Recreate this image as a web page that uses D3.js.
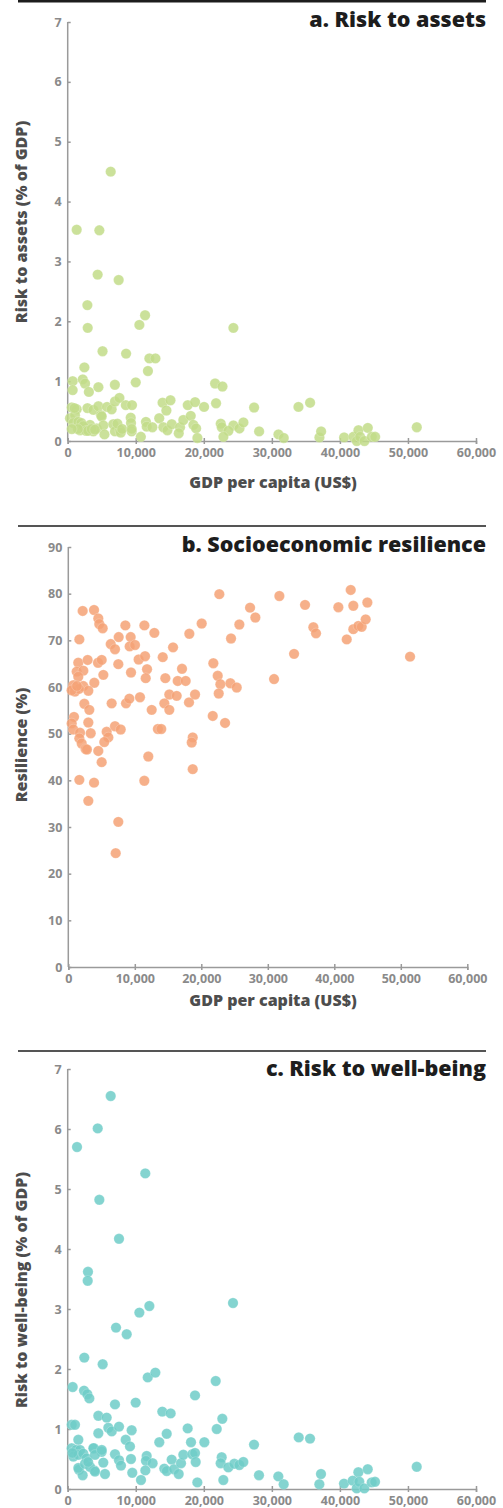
<!DOCTYPE html>
<html>
<head>
<meta charset="utf-8">
<title>Risk to assets, resilience and risk to well-being</title>
<style>
  body { margin: 0; background: #fff; }
  svg { display: block; }
  .tick text { font-family: "Open Sans", Lato, sans-serif; font-weight: 700; font-size: 12.5px; fill: #8a8a8a; }
  .domain, .tick line { stroke: #9a9a9a; stroke-width: 1.5; }
  .axis-title { font-family: "Open Sans", Lato, sans-serif; font-weight: 800; font-size: 16px; fill: #4d4d4d; }
  .panel-title { font-family: "Open Sans", Lato, sans-serif; font-weight: 800; font-size: 21.5px; fill: #1d1d1d; }
</style>
<script src="https://cdnjs.cloudflare.com/ajax/libs/d3/7.8.5/d3.min.js"></script>
</head>
<body>
<div id="chart"></div>
<script>
// [GDP per capita (US$), value]
const pointsAssets = [
  [6320,4.50],[1320,3.53],[4650,3.52],[4400,2.78],[7490,2.69],
  [2890,2.27],[11370,2.10],[10530,1.94],[2940,1.89],[24350,1.89],
  [5120,1.50],[8580,1.46],[12000,1.38],[12890,1.38],[11790,1.17],[2450,1.23],
  [730,1.00],[730,0.85],[2210,1.03],[2550,0.96],[3110,0.82],[4510,0.90],[6930,0.94],[10000,0.98],[21660,0.96],[22740,0.91],
  [590,0.56],[1320,0.53],[2900,0.55],[3770,0.52],[4510,0.58],[5780,0.57],[6460,0.53],[6950,0.66],[7600,0.72],[8540,0.60],
  [9450,0.60],[13940,0.64],[15100,0.68],[17640,0.60],[18720,0.65],[20040,0.57],[21800,0.63],[27390,0.56],[33910,0.57],[35620,0.64],[14500,0.51],
  [4900,0.43],[9260,0.39],[340,0.38],[1070,0.43],[820,0.30],[1560,0.32],[1810,0.18],[2540,0.21],[3280,0.27],[3770,0.16],
  [4260,0.21],[5000,0.41],[5240,0.26],[5400,0.11],[6700,0.28],[6950,0.16],[7690,0.18],[9300,0.30],[9400,0.16],[10750,0.07],
  [11500,0.32],[11610,0.24],[12440,0.23],[13450,0.38],[14060,0.23],[14650,0.18],[15290,0.28],[16510,0.23],[16320,0.13],
  [16990,0.35],[18080,0.42],[18470,0.27],[18870,0.21],[19060,0.05],[22490,0.29],[22640,0.23],[24350,0.26],[25240,0.21],
  [25820,0.31],[23620,0.17],[22880,0.07],[28130,0.16],[30970,0.11],[31750,0.05],[36990,0.06],[37240,0.16],[40620,0.06],
  [41990,0.07],[42730,0.18],[42480,0.00],[42970,0.07],[43610,0.00],[44100,0.22],[44690,0.07],[45180,0.07],[51300,0.23],
  [1000,0.55],[2000,0.30],[2300,0.25],[2700,0.17],[3000,0.17],[3500,0.20],[1500,0.20],[600,0.20],[4000,0.19],
  [7300,0.29],[7800,0.14],[8000,0.20],[9400,0.20]
];

const pointsResilience = [
  [22710,79.9],[27330,77.0],[28130,74.9],[2160,76.3],[3870,76.5],[4510,74.7],[4660,73.5],[5170,72.6],[1660,70.2],
  [8580,73.2],[11440,73.2],[12940,71.6],[20060,73.6],[18200,71.4],[24470,70.4],[25720,73.4],
  [6380,69.2],[7020,68.1],[7580,70.7],[9380,70.7],[9230,68.7],[10030,69.0],[15750,68.5],
  [1500,65.2],[2910,65.8],[4470,65.2],[5020,65.8],[1260,63.3],[2260,63.5],[1500,62.2],[5270,62.6],[7520,64.9],[9430,63.1],
  [10580,65.9],[11540,66.6],[11840,63.8],[11640,61.9],[14200,66.4],[17100,63.9],[14590,61.9],[16450,61.3],[17650,61.3],
  [21810,65.1],[22470,62.4],[22870,60.6],[22620,58.6],[24370,60.8],[25330,59.9],[3910,60.9],
  [750,60.4],[1000,59.0],[2260,60.2],[3010,59.2],[1610,59.6],[500,59.3],[1300,60.2],
  [6520,56.5],[8680,56.5],[9180,57.5],[10780,57.8],[12540,55.1],[14440,56.5],[15190,55.1],[15190,58.4],[16300,58.1],
  [18150,56.7],[19060,58.4],[2410,56.4],[3160,55.1],[860,53.6],[510,52.2],[750,50.9],[3010,52.4],[3370,50.1],
  [1760,50.2],[1660,49.0],[2020,47.9],[2600,46.7],[2800,46.6],[4510,46.3],[5020,43.9],[5770,50.4],[6020,49.2],[5410,48.2],
  [7020,51.6],[7880,50.9],[13470,51.0],[13980,51.0],[12030,45.1],[18710,49.2],[18560,48.1],[21720,53.8],[23570,52.3],
  [18710,42.4],[1660,40.1],[3870,39.5],[3010,35.6],[11430,39.9],[7520,31.1],[7130,24.4],
  [31740,79.5],[30940,61.7],[33950,67.1],[35600,77.6],[36850,72.8],[37250,71.5],[40610,77.1],[42470,80.8],[42860,77.4],
  [44970,78.1],[41870,70.2],[42860,72.4],[43620,73.1],[44120,72.9],[44720,74.5],[51390,66.5]
];

const pointsWellbeing = [
  [6320,6.55],[4410,6.01],[1370,5.70],[11400,5.26],[4650,4.82],[7540,4.17],[2980,3.62],[2940,3.47],[12000,3.05],
  [10530,2.94],[24290,3.10],[7100,2.69],[8670,2.58],
  [2440,2.19],[5140,2.08],[11760,1.86],[12880,1.94],[21750,1.80],[730,1.70],[2400,1.64],[2880,1.58],[3180,1.51],
  [18710,1.56],[6950,1.41],[9990,1.44],[13900,1.29],[15130,1.26],[4500,1.22],[5730,1.19],[22720,1.17],[590,1.07],
  [1070,1.07],[5970,1.02],[6470,0.96],[7540,1.04],[9400,0.98],[17630,1.01],[21900,1.00],[4500,0.93],[14550,0.92],
  [33950,0.86],[35610,0.84],[1560,0.82],[8520,0.82],[9150,0.71],[13460,0.78],[18120,0.78],[20080,0.78],[27380,0.74],
  [3860,0.68],[4990,0.62],[6950,0.58],[7540,0.48],[7830,0.39],[9300,0.50],[9490,0.27],[5230,0.44],[5480,0.25],
  [3910,0.31],[1660,0.32],[2200,0.23],
  [11610,0.55],[11500,0.47],[12480,0.43],[11410,0.31],[10770,0.15],[14190,0.34],[14550,0.30],[15280,0.49],[15620,0.33],
  [16310,0.25],[16650,0.43],[16990,0.57],[18310,0.58],[18710,0.60],[18810,0.45],[19050,0.11],[22630,0.53],[22480,0.43],
  [22870,0.15],[23600,0.36],[24480,0.42],[25220,0.40],[25810,0.45],[28110,0.23],[30950,0.21],[31740,0.08],[36980,0.08],
  [37220,0.25],[40600,0.09],[41880,0.14],[42710,0.28],[42470,0.01],[42850,0.12],[43590,0.01],[44090,0.33],[44670,0.11],
  [45160,0.12],[51290,0.37],
  [590,0.68],[1220,0.65],[1810,0.65],[830,0.54],[1560,0.57],[2290,0.59],[2790,0.51],[3770,0.68],[4010,0.57],[5000,0.65],
  [1560,0.35],[2540,0.42],[3280,0.37],[4010,0.29],[700,0.60],[3000,0.45]
];

const gdpTicks = [0, 10000, 20000, 30000, 40000, 50000, 60000];
const riskTicks = [0, 1, 2, 3, 4, 5, 6, 7];
const resilienceTicks = [0, 10, 20, 30, 40, 50, 60, 70, 80, 90];

const W = 503, H = 1508;
const svg = d3.select("#chart").append("svg")
  .attr("width", W)
  .attr("height", H);

const fmt = d3.format(",");

function drawPanel(p) {
  const x = d3.scaleLinear().domain([0, 60000]).range([p.x0, p.x1]);
  const y = d3.scaleLinear().domain(p.yDomain).range([p.yBottom, p.yTop]);

  // rule + title
  svg.append("line")
    .attr("x1", 18).attr("x2", 486)
    .attr("y1", p.ruleY).attr("y2", p.ruleY)
    .attr("stroke", "#1d1d1d")
    .attr("stroke-width", p.ruleW);
  svg.append("text")
    .attr("class", "panel-title")
    .attr("x", 486)
    .attr("y", p.titleY)
    .attr("text-anchor", "end")
    .text(p.title);

  svg.append("g")
    .attr("transform", "translate(0," + p.yBottom + ")")
    .call(d3.axisBottom(x).tickValues(gdpTicks).tickFormat(fmt).tickSize(3).tickPadding(4))
    .call(g => g.selectAll(".tick line").attr("y1", -3).attr("y2", 3));

  svg.append("g")
    .attr("transform", "translate(" + p.x0 + ",0)")
    .call(d3.axisLeft(y).tickValues(p.yTicks).tickFormat(d3.format("d")).tickSize(0).tickPadding(6))
    .call(g => g.selectAll(".tick line").attr("x1", 0).attr("x2", 3))
    .call(g => g.select(".domain").attr("d", "M0," + p.yTop + "V" + p.yBottom));

  svg.append("g")
    .selectAll("circle")
    .data(p.data)
    .join("circle")
    .attr("cx", d => x(d[0]))
    .attr("cy", d => y(d[1]))
    .attr("r", 5.2)
    .attr("fill", p.color)
    .attr("fill-opacity", 0.85)
    .attr("stroke", "#fff")
    .attr("stroke-opacity", 0.35)
    .attr("stroke-width", 0.6);

  svg.append("text")
    .attr("class", "axis-title")
    .attr("transform", "translate(27," + p.yLabelY + ") rotate(-90)")
    .attr("text-anchor", "middle")
    .text(p.yLabel);

  if (p.xLabelY) {
    svg.append("text")
      .attr("class", "axis-title")
      .attr("x", 273)
      .attr("y", p.xLabelY)
      .attr("text-anchor", "middle")
      .text("GDP per capita (US$)");
  }
}

drawPanel({
  title: "a. Risk to assets", ruleY: 1, ruleW: 3, titleY: 27,
  x0: 67.7, x1: 476, yTop: 22, yBottom: 441, yDomain: [0, 7], yTicks: riskTicks,
  data: pointsAssets, color: "#c2dc88",
  yLabel: "Risk to assets (% of GDP)", yLabelY: 222, xLabelY: 488
});

drawPanel({
  title: "b. Socioeconomic resilience", ruleY: 526, ruleW: 1.5, titleY: 552,
  x0: 68.3, x1: 467.3, yTop: 547, yBottom: 967, yDomain: [0, 90], yTicks: resilienceTicks,
  data: pointsResilience, color: "#f5a275",
  yLabel: "Resilience (%)", yLabelY: 745, xLabelY: 1006
});

drawPanel({
  title: "c. Risk to well-being", ruleY: 1051, ruleW: 1.5, titleY: 1076,
  x0: 67.7, x1: 476, yTop: 1069, yBottom: 1489, yDomain: [0, 7], yTicks: riskTicks,
  data: pointsWellbeing, color: "#6fcdc8",
  yLabel: "Risk to well-being (% of GDP)", yLabelY: 1290, xLabelY: null
});
</script>
</body>
</html>
